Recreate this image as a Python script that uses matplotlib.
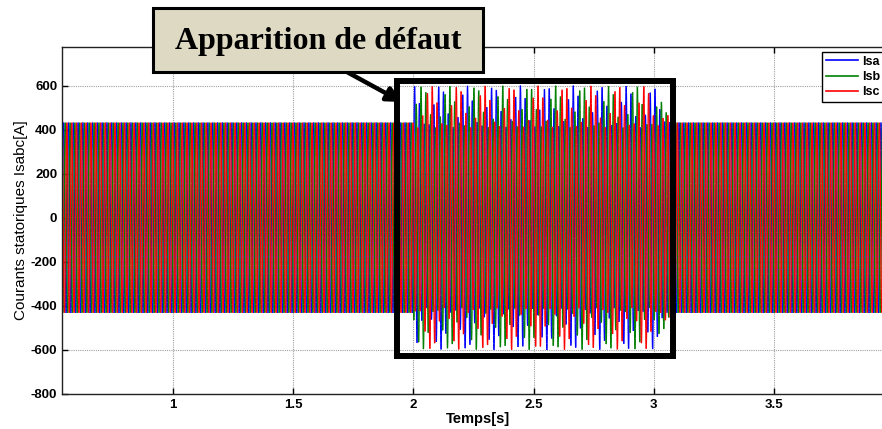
import numpy as np
import matplotlib
matplotlib.use("Agg")
import matplotlib.pyplot as plt
from matplotlib.patches import Rectangle
from matplotlib.collections import LineCollection
from matplotlib.lines import Line2D

plt.rcParams["axes.unicode_minus"] = False

# ---- data ----
series_names = ["Isa", "Isb", "Isc"]
series_colors = ["#0000ff", "#008000", "#ff0000"]
freq_hz = 50.0
t_start, t_end = 0.5, 4.0
# envelope knots (time [s]) of the stator current amplitude
env_t = [0.50, 2.00, 2.001, 3.00, 3.04, 3.08, 4.00]
env_mean = [432, 432, 505, 505, 470, 432, 432]     # mean peak amplitude [A]
env_beat = [0, 0, 95, 95, 40, 0, 0]               # beat amplitude [A]
beat_freq_hz = 9.0
phase_shift_deg = [0, -120, 120]

xticks = [1, 1.5, 2, 2.5, 3, 3.5]
yticks = [-800, -600, -400, -200, 0, 200, 400, 600]

# ---- build waveform from envelopes ----
t = np.arange(t_start, t_end, 5e-4)
A = np.interp(t, env_t, env_mean)
B = np.interp(t, env_t, env_beat)

W, H = 882, 429
fig = plt.figure(figsize=(W / 100, H / 100), dpi=100)
ax_left, ax_bottom, ax_top = 62, 394, 47
x_lo, x_hi = 0.538, 4.0
px_per_s = 240.4
ax_right = 173 + (x_hi - 1) * px_per_s
ax = fig.add_axes([ax_left / W, 1 - ax_bottom / H, (ax_right - ax_left) / W, (ax_bottom - ax_top) / H])

handles = []
for name, col, ph in zip(series_names, series_colors, phase_shift_deg):
    phr = np.deg2rad(ph)
    amp = A + B * np.cos(2 * np.pi * beat_freq_hz * t + phr)
    y = amp * np.sin(2 * np.pi * freq_hz * t + phr)
    pts = np.column_stack([t, y])
    segs = np.stack([pts[:-1], pts[1:]], axis=1)
    lc = LineCollection(segs, colors=col, linewidths=0.9)
    ax.add_collection(lc)
    handles.append(Line2D([], [], color=col, lw=1.2, label=name))

ax.set_xlim(x_lo, x_hi)
ax.set_ylim(-800, 775)
ax.set_xticks(xticks)
ax.set_xticklabels([("%g" % v) for v in xticks])
ax.set_yticks(yticks)
ax.grid(True, color="#a0a0a0", lw=0.8, ls=(0, (1, 1)))
ax.tick_params(direction="in", top=True, right=True, length=4, width=1, labelsize=9.5)
for lab in ax.get_xticklabels() + ax.get_yticklabels():
    lab.set_fontweight("bold")
    lab.set_family("Liberation Sans")
for s in ax.spines.values():
    s.set_linewidth(1.0)
    s.set_color("#222222")

ax.set_xlabel("Temps[s]", fontsize=10.5, fontweight="bold", family="Liberation Sans", labelpad=1)
ax.set_ylabel("Courants statoriques Isabc[A]", fontsize=11, family="Liberation Sans", labelpad=2)

leg = ax.legend(handles=handles, loc="upper left", bbox_to_anchor=(822 / W, 1 - 52 / H),
                bbox_transform=fig.transFigure,
                fancybox=False, framealpha=1, edgecolor="black",
                prop={"weight": "bold", "family": "Liberation Sans", "size": 9},
                handlelength=2.6, handletextpad=0.3, borderaxespad=0, labelspacing=0.25, borderpad=0.3)
leg.get_frame().set_linewidth(1.0)

# fault rectangle
rect = Rectangle((1.932, -628), 3.080 - 1.932, 622 + 628, fill=False, ec="black", lw=4.3, zorder=5, clip_on=False)
ax.add_patch(rect)

# annotation box
bx0, by0, bx1, by1 = 153, 8, 483, 72
box = Rectangle((bx0 / W, 1 - by1 / H), (bx1 - bx0) / W, (by1 - by0) / H, transform=fig.transFigure,
                fc="#ddd9c3", ec="black", lw=2.2, zorder=10)
fig.patches.append(box)
fig.text((bx0 + bx1) / 2 / W, 1 - 41 / H, "Apparition de défaut", ha="center", va="center",
         fontsize=23, fontweight="bold", family="Liberation Serif", zorder=11)

ax.annotate("", xy=(402 / W, 1 - 102 / H), xytext=(347 / W, 1 - 72 / H),
            xycoords="figure fraction", textcoords="figure fraction",
            arrowprops=dict(arrowstyle="-|>", lw=3.2, color="black", mutation_scale=22, shrinkA=0, shrinkB=0),
            zorder=12, annotation_clip=False)

fig.savefig("out.png", dpi=100)
